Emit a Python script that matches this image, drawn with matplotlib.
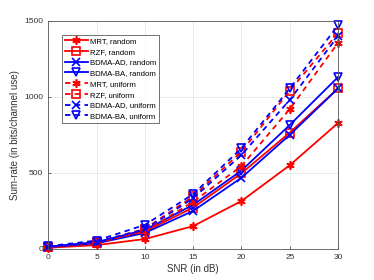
import numpy as np
import matplotlib
matplotlib.use("Agg")
import matplotlib.pyplot as plt

# Data
snr = [0, 5, 10, 15, 20, 25, 30]

mrt_random = [8, 25, 65, 150, 315, 550, 828]
rzf_random = [12, 40, 115, 272, 497, 765, 1055]
bdma_ad_random = [12, 37, 105, 250, 468, 750, 1055]
bdma_ba_random = [15, 45, 125, 290, 515, 815, 1130]
mrt_uniform = [12, 40, 115, 310, 545, 920, 1355]
rzf_uniform = [14, 45, 132, 345, 640, 1040, 1420]
bdma_ad_uniform = [14, 45, 128, 333, 618, 980, 1400]
bdma_ba_uniform = [18, 55, 158, 360, 662, 1055, 1470]

labels = ["MRT, random", "RZF, random", "BDMA-AD, random", "BDMA-BA, random",
          "MRT, uniform", "RZF, uniform", "BDMA-AD, uniform", "BDMA-BA, uniform"]

plt.rcParams["font.family"] = ["Liberation Sans", "DejaVu Sans"]

fig = plt.figure(figsize=(3.74, 2.8), dpi=100)
ax = fig.add_axes([0.129, 0.111, 0.775, 0.815])

series = [mrt_random, rzf_random, bdma_ad_random, bdma_ba_random,
          mrt_uniform, rzf_uniform, bdma_ad_uniform, bdma_ba_uniform]
colors = ["red", "red", "blue", "blue"] * 2
markers = [(6, 2, 0), "s", "x", "v"] * 2
dashed = [False] * 4 + [True] * 4

for y, c, m, d, lab in zip(series, colors, markers, dashed, labels):
    line, = ax.plot(snr, y, color=c, marker=m, linewidth=1.3,
                    markersize=6, markerfacecolor="none", markeredgewidth=1.2,
                    label=lab, clip_on=False)
    if d:
        line.set_dashes((3, 2.4))

ax.set_xlim(0, 30)
ax.set_ylim(0, 1500)
ax.set_xticks([0, 5, 10, 15, 20, 25, 30])
ax.set_yticks([0, 500, 1000, 1500])
ax.grid(True, color="#e6e6e6", linewidth=0.6)
ax.set_axisbelow(True)
for s in ax.spines.values():
    s.set_color("#555555")
    s.set_linewidth(0.6)
ax.tick_params(labelsize=6, colors="#333333", direction="in", length=2, width=0.5)
ax.set_xlabel("SNR (in dB)", fontsize=7, color="#333333", labelpad=2)
ax.set_ylabel("Sum-rate (in bits/channel use)", fontsize=7, color="#333333", labelpad=3)

leg = ax.legend(loc="upper left", bbox_to_anchor=(0.035, 0.955), fontsize=5.6,
                frameon=True, fancybox=False, edgecolor="#333333",
                handlelength=2.9, borderpad=0.35, labelspacing=0.42,
                handletextpad=0.3)
leg.get_frame().set_linewidth(0.6)

fig.savefig("out.png", dpi=100)
